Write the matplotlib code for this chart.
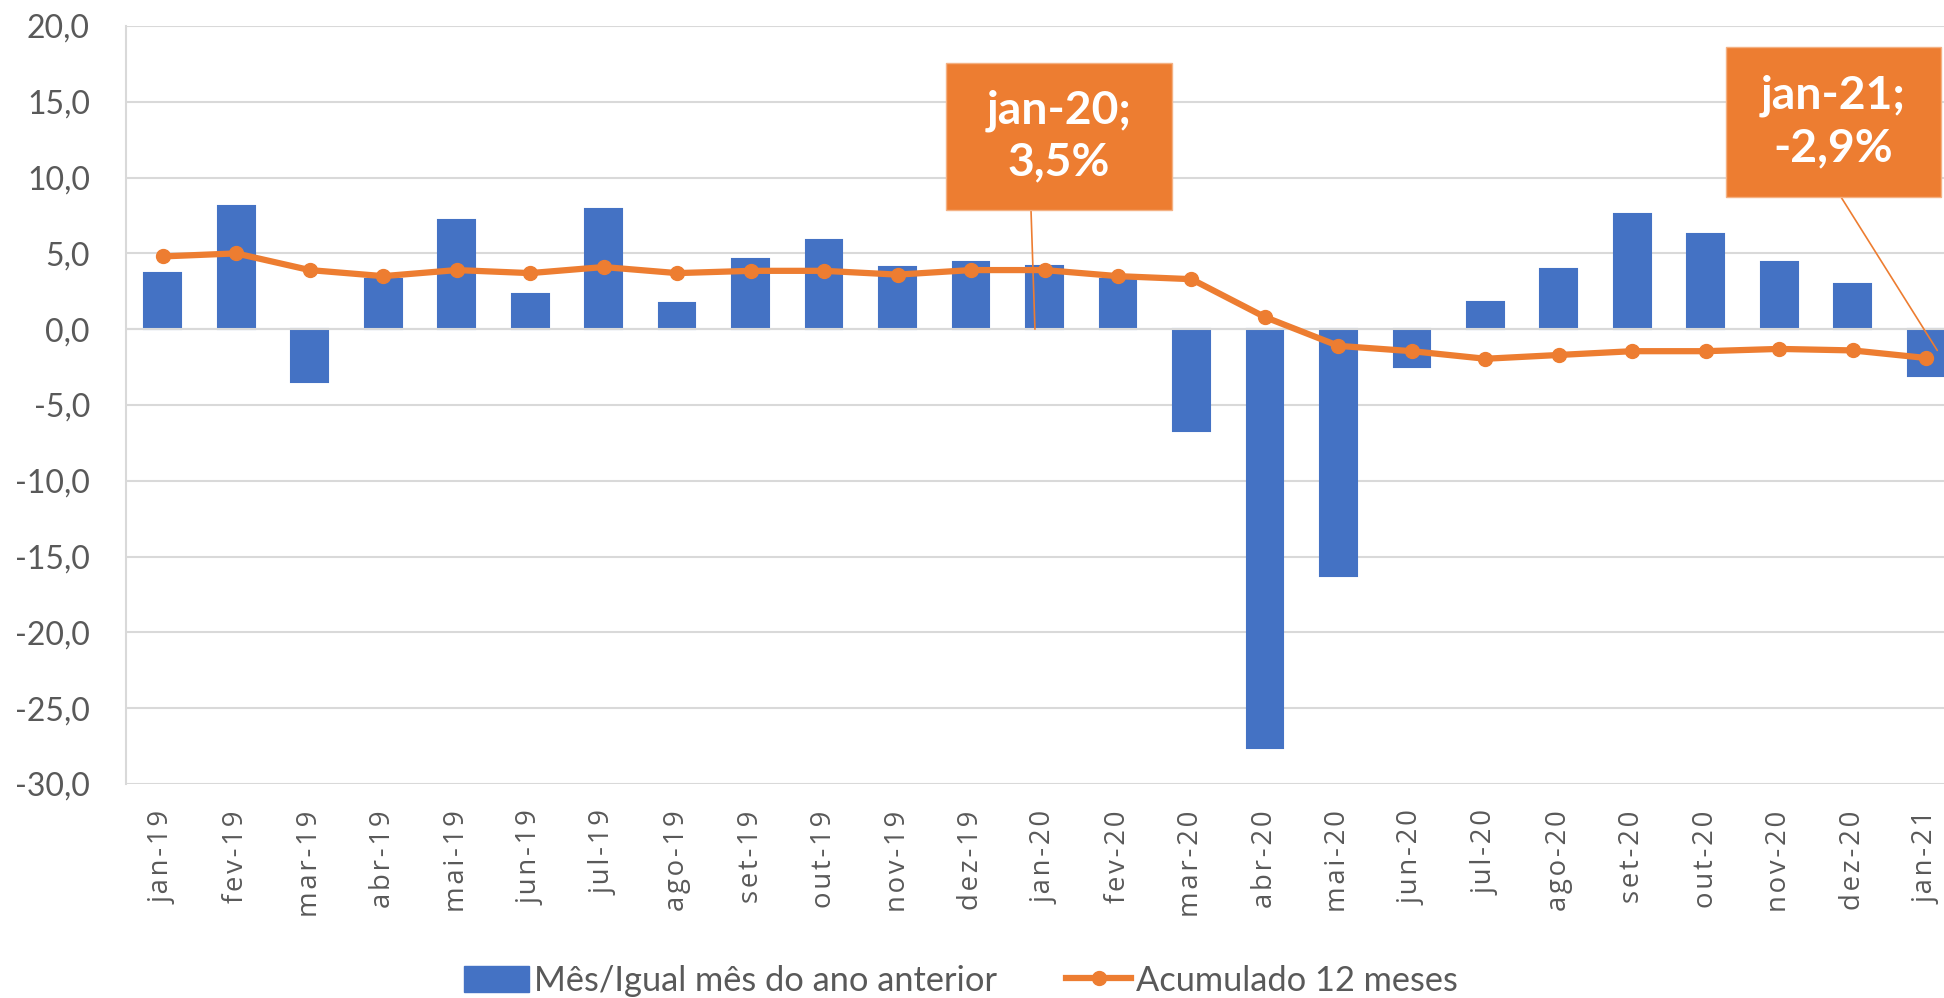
import matplotlib.pyplot as plt
from matplotlib.lines import Line2D
from matplotlib.patches import Patch, Rectangle

meses = ['jan-19', 'fev-19', 'mar-19', 'abr-19', 'mai-19', 'jun-19', 'jul-19', 'ago-19',
         'set-19', 'out-19', 'nov-19', 'dez-19', 'jan-20', 'fev-20', 'mar-20', 'abr-20',
         'mai-20', 'jun-20', 'jul-20', 'ago-20', 'set-20', 'out-20', 'nov-20', 'dez-20', 'jan-21']
mes_ano_anterior = [3.7, 8.1, -3.5, 3.3, 7.2, 2.3, 7.9, 1.7, 4.6, 5.9, 4.1, 4.4, 4.2,
                    3.3, -6.7, -27.6, -16.3, -2.5, 1.8, 4.0, 7.6, 6.3, 4.4, 3.0, -3.1]
acumulado_12m = [4.8, 5.0, 3.9, 3.5, 3.9, 3.7, 4.1, 3.7, 3.85, 3.85, 3.6, 3.9, 3.9,
                 3.5, 3.3, 0.8, -1.1, -1.45, -1.95, -1.7, -1.45, -1.45, -1.3, -1.4, -1.9]
destaque_meses = ['jan-20', 'jan-21']
destaque_textos = ['3,5%', '-2,9%']
legendas = ['Mês/Igual mês do ano anterior', 'Acumulado 12 meses']

azul = '#4472C4'
laranja = '#ED7D31'
cinza = '#D9D9D9'
texto_cinza = '#595959'

W, H = 1944, 998
fig = plt.figure(figsize=(W / 100, H / 100), dpi=100)


def px(x, y):
    # pixels (a partir do canto superior esquerdo) -> fração da figura
    return x / W, 1 - y / H


def tamanho_para(texto, alvo, altura=False):
    # fonte que deixa o texto com 'alvo' pixels de largura (ou altura, se girado)
    bb = texto.get_window_extent(fig.canvas.get_renderer())
    atual = bb.height if altura else bb.width
    return texto.get_fontsize() * alvo / atual


# área do gráfico: passa um pouco da borda direita, como no original
ax = fig.add_axes([126 / W, 1 - 784 / H, 1837 / W, (784 - 26) / H])

x = list(range(len(meses)))
ax.bar(x, mes_ano_anterior, width=0.5, color=azul, edgecolor=azul, linewidth=1.5, zorder=2)
ax.axhline(0, color=cinza, lw=1.5, zorder=3)
ax.plot(x, acumulado_12m, color=laranja, lw=4.5, marker='o', markersize=10, zorder=4)

ax.set_xlim(-0.5, len(meses) - 0.5)
ax.set_ylim(-30, 20)
ax.set_yticks(range(-30, 21, 5))
ax.set_yticklabels([f'{v:.1f}'.replace('.', ',') for v in range(-30, 21, 5)],
                   fontsize=23, color=texto_cinza, family='Lato')
ax.set_xticks(x)
ax.set_xticklabels(['\u200a'.join(m) for m in meses], rotation=90, fontsize=19,
                   color=texto_cinza, family=['Open Sans', 'DejaVu Sans'])
ax.tick_params(axis='both', length=0)
ax.tick_params(axis='y', pad=26)
ax.tick_params(axis='x', pad=19)

ax.yaxis.grid(True, color=cinza, lw=1.5)
ax.set_axisbelow(True)
for lado in ['top', 'right', 'bottom']:
    ax.spines[lado].set_visible(False)
ax.spines['left'].set_color(cinza)
ax.spines['left'].set_linewidth(1.5)

# caixas de destaque (posição em pixels da figura)
caixas = [(946, 63, 1172, 210, 1031, 11.87, 0.0),
          (1726, 47, 1941, 197, 1841, 24.15, -1.4)]
textos_caixa = []
for (x0, y0, x1, y1, xc, ax_x, ax_y), mes, txt in zip(caixas, destaque_meses, destaque_textos):
    canto = px(x0, y1)
    fig.patches.append(Rectangle(canto, (x1 - x0) / W, (y1 - y0) / H,
                                 transform=fig.transFigure, facecolor=laranja,
                                 edgecolor='#F4B183', lw=1, zorder=10))
    cx, cy = px((x0 + x1) / 2, (y0 + y1) / 2)
    t = fig.text(cx, cy, f'{mes};\n{txt}', ha='center', va='center', color='white',
                 fontsize=33, fontweight='bold', family='Lato', linespacing=1.3, zorder=11)
    textos_caixa.append(t)
    ax.annotate('', xy=(ax_x, ax_y), xycoords='data',
                xytext=px(xc, y1), textcoords='figure fraction',
                arrowprops=dict(arrowstyle='-', color=laranja, lw=1.2,
                                shrinkA=0, shrinkB=0),
                annotation_clip=False, zorder=5)

# ajusta os tamanhos de fonte às medidas do original
fig.canvas.draw()
tam_x = tamanho_para(ax.get_xticklabels()[0], 93, altura=True)
tam_y = tamanho_para(ax.get_yticklabels()[-1], 63)
teste = fig.text(0, 0, f'{destaque_meses[0]};', fontsize=33, fontweight='bold', family='Lato')
tam_caixa = tamanho_para(teste, 145)
teste.remove()
teste = fig.text(0, 0, legendas[0], fontsize=25, family='Lato')
tam_leg = tamanho_para(teste, 464)
teste.remove()

ax.tick_params(axis='x', labelsize=tam_x)
ax.tick_params(axis='y', labelsize=tam_y)
for t in textos_caixa:
    t.set_fontsize(tam_caixa)

handles = [Patch(facecolor=azul, edgecolor=azul),
           Line2D([], [], color=laranja, lw=4.5, marker='o', markersize=10)]
fig.legend(handles, legendas,
           loc='center', bbox_to_anchor=(961 / W, 17 / H), ncol=2, frameon=False,
           prop={'family': 'Lato', 'size': tam_leg}, labelcolor=texto_cinza,
           handlelength=1.9, handleheight=0.8, handletextpad=0.15, columnspacing=2.0,
           borderpad=0, borderaxespad=0)

fig.savefig('out.png', dpi=100, facecolor='white')
